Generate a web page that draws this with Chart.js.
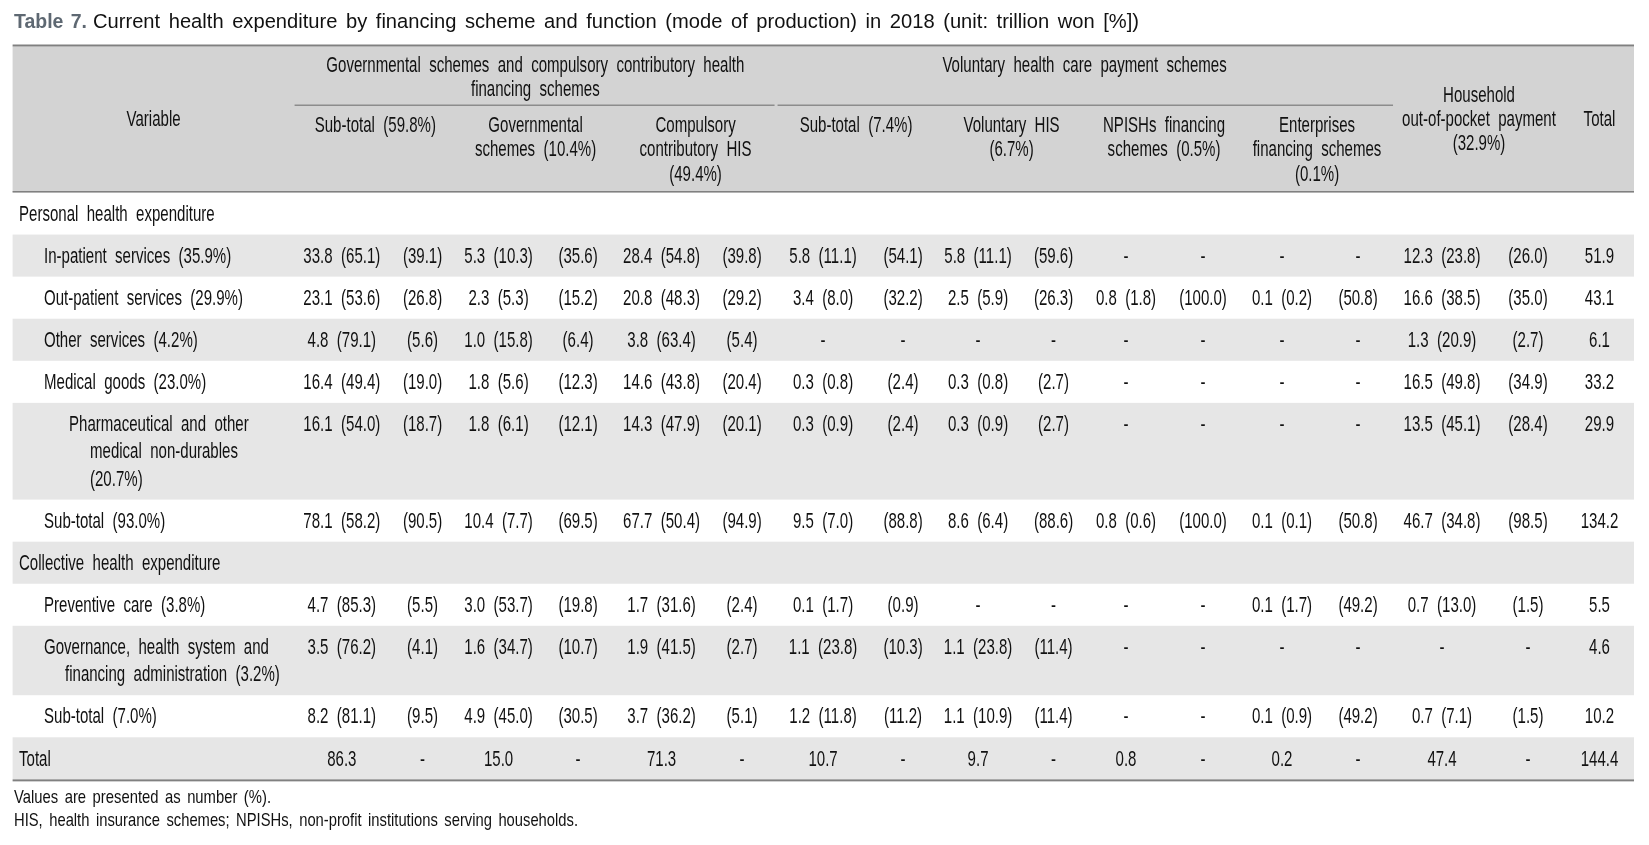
<!DOCTYPE html>
<html>
<head>
<meta charset="utf-8">
<script src="https://cdn.jsdelivr.net/npm/chart.js@4.4.1/dist/chart.umd.min.js"></script>
<style>
html,body{margin:0;padding:0;background:#fff;}
canvas{display:block;}
</style>
</head>
<body>
<canvas id="c" width="1649" height="845"></canvas>
<script>
// ---------------- text content ----------------
const titleLead = 'Table 7.';
const titleText = 'Current health expenditure by financing scheme and function (mode of production) in 2018 (unit: trillion won [%])';
const footnotes = [
  'Values are presented as number (%).',
  'HIS, health insurance schemes; NPISHs, non-profit institutions serving households.'
];
const variableHeader = 'Variable';
const totalHeader = 'Total';
const groupHeaders = [
  ['Governmental schemes and compulsory contributory health', 'financing schemes'],
  ['Voluntary health care payment schemes']
];
const schemeHeaders = [
  ['Sub-total (59.8%)'],
  ['Governmental', 'schemes (10.4%)'],
  ['Compulsory', 'contributory HIS', '(49.4%)'],
  ['Sub-total (7.4%)'],
  ['Voluntary HIS', '(6.7%)'],
  ['NPISHs financing', 'schemes (0.5%)'],
  ['Enterprises', 'financing schemes', '(0.1%)'],
  ['Household', 'out-of-pocket payment', '(32.9%)']
];

// ---------------- rows ----------------
const rowLabels = [
  ['Personal health expenditure'],
  ['In-patient services (35.9%)'],
  ['Out-patient services (29.9%)'],
  ['Other services (4.2%)'],
  ['Medical goods (23.0%)'],
  ['Pharmaceutical and other', 'medical non-durables', '(20.7%)'],
  ['Sub-total (93.0%)'],
  ['Collective health expenditure'],
  ['Preventive care (3.8%)'],
  ['Governance, health system and', 'financing administration (3.2%)'],
  ['Sub-total (7.0%)'],
  ['Total']
];
const rowLevels = [0, 1, 1, 1, 1, 2, 1, 0, 1, 1, 1, 0];
const sectionRows = [0, 7];   // rows that carry no values

// ---------------- values (value rows: In, Out, Other, Medical, Pharma, Sub, Prev, Gov, Sub, Total) ----------------
// amount (trillion won), share within row [%], share within column [%]; null = '-'
const govSubAmt  = [33.8, 23.1, 4.8, 16.4, 16.1, 78.1, 4.7, 3.5, 8.2, 86.3];
const govSubRow  = [65.1, 53.6, 79.1, 49.4, 54.0, 58.2, 85.3, 76.2, 81.1, null];
const govSubCol  = [39.1, 26.8, 5.6, 19.0, 18.7, 90.5, 5.5, 4.1, 9.5, null];

const govAmt     = [5.3, 2.3, 1.0, 1.8, 1.8, 10.4, 3.0, 1.6, 4.9, 15.0];
const govRow     = [10.3, 5.3, 15.8, 5.6, 6.1, 7.7, 53.7, 34.7, 45.0, null];
const govCol     = [35.6, 15.2, 6.4, 12.3, 12.1, 69.5, 19.8, 10.7, 30.5, null];

const compAmt    = [28.4, 20.8, 3.8, 14.6, 14.3, 67.7, 1.7, 1.9, 3.7, 71.3];
const compRow    = [54.8, 48.3, 63.4, 43.8, 47.9, 50.4, 31.6, 41.5, 36.2, null];
const compCol    = [39.8, 29.2, 5.4, 20.4, 20.1, 94.9, 2.4, 2.7, 5.1, null];

const volSubAmt  = [5.8, 3.4, null, 0.3, 0.3, 9.5, 0.1, 1.1, 1.2, 10.7];
const volSubRow  = [11.1, 8.0, null, 0.8, 0.9, 7.0, 1.7, 23.8, 11.8, null];
const volSubCol  = [54.1, 32.2, null, 2.4, 2.4, 88.8, 0.9, 10.3, 11.2, null];

const volHisAmt  = [5.8, 2.5, null, 0.3, 0.3, 8.6, null, 1.1, 1.1, 9.7];
const volHisRow  = [11.1, 5.9, null, 0.8, 0.9, 6.4, null, 23.8, 10.9, null];
const volHisCol  = [59.6, 26.3, null, 2.7, 2.7, 88.6, null, 11.4, 11.4, null];

const npishAmt   = [null, 0.8, null, null, null, 0.8, null, null, null, 0.8];
const npishRow   = [null, 1.8, null, null, null, 0.6, null, null, null, null];
const npishCol   = [null, 100.0, null, null, null, 100.0, null, null, null, null];

const entAmt     = [null, 0.1, null, null, null, 0.1, 0.1, null, 0.1, 0.2];
const entRow     = [null, 0.2, null, null, null, 0.1, 1.7, null, 0.9, null];
const entCol     = [null, 50.8, null, null, null, 50.8, 49.2, null, 49.2, null];

const hhAmt      = [12.3, 16.6, 1.3, 16.5, 13.5, 46.7, 0.7, null, 0.7, 47.4];
const hhRow      = [23.8, 38.5, 20.9, 49.8, 45.1, 34.8, 13.0, null, 7.1, null];
const hhCol      = [26.0, 35.0, 2.7, 34.9, 28.4, 98.5, 1.5, null, 1.5, null];

const totalAmt   = [51.9, 43.1, 6.1, 33.2, 29.9, 134.2, 5.5, 4.6, 10.2, 144.4];

// ---------------- layout / style (not data) ----------------
const colWidths = [282, 94.5, 67, 85, 74, 93, 68, 94, 66, 84, 67, 78, 76, 82, 70, 98, 74, 69];
const rowBase = 42.07, rowExtra = 27.34, firstLine = 22.3;
const headerH = 146, headerTopPad = 46.5, hShift = 2;
const indentBase = 6.4, indentStep = 25, hanging = 21;
const colors = { text: '#111111', header: '#d3d3d3', stripe: '#e6e6e6', rule: '#808080', lead: '#5e6872' };

function hasFont(name) {
  const c = document.createElement('canvas').getContext('2d');
  const s = 'abcdefghijklmnopqrstuvwxyz0123456789';
  c.font = '40px monospace'; const a = c.measureText(s).width;
  c.font = '40px "' + name + '", monospace'; const b = c.measureText(s).width;
  return Math.abs(a - b) > 1;
}
const narrow = hasFont('Liberation Sans Narrow');
const bodyFont = narrow ? '21.5px "Liberation Sans Narrow"' : '21.5px "Liberation Sans", Arial, sans-serif';
const bodySx = (narrow ? 0.89 : 0.73) * 0.958;
const bodyWs = 6;

// ---------------- derived structures ----------------
const schemes = [
  [govSubAmt, govSubRow, govSubCol], [govAmt, govRow, govCol], [compAmt, compRow, compCol],
  [volSubAmt, volSubRow, volSubCol], [volHisAmt, volHisRow, volHisCol], [npishAmt, npishRow, npishCol],
  [entAmt, entRow, entCol], [hhAmt, hhRow, hhCol]
];
const fmt = v => v.toFixed(1);
const valueColumns = [];
schemes.forEach(([amt, row, col]) => {
  valueColumns.push(amt.map((a, i) => a === null ? '-' : (row[i] === null ? fmt(a) : fmt(a) + ' (' + fmt(row[i]) + ')')));
  valueColumns.push(col.map(c => c === null ? '-' : '(' + fmt(c) + ')'));
});
valueColumns.push(totalAmt.map(fmt));

const colEdges = [0];
colWidths.forEach(w => colEdges.push(colEdges[colEdges.length - 1] + w));
const colCenter = i => (colEdges[i] + colEdges[i + 1]) / 2;

const rowTops = [0];
rowLabels.forEach(l => rowTops.push(rowTops[rowTops.length - 1] + rowBase + (l.length - 1) * rowExtra));
const totalH = rowTops[rowTops.length - 1];
const valueRows = rowLabels.map((_, i) => i).filter(i => !sectionRows.includes(i));

const datasets = valueColumns.map((col, ci) => ({
  label: 'col' + ci,
  data: valueRows.map((r, k) => ({ x: colCenter(ci + 1), y: rowTops[r] + firstLine, t: col[k] })),
  pointRadius: 0, pointHoverRadius: 0, showLine: false
}));

// ---------------- drawing helpers ----------------
function drawText(ctx, text, x, y, align, font, sx, ws, color, fitW) {
  ctx.save();
  ctx.font = font;
  ctx.fillStyle = color;
  ctx.textBaseline = 'middle';
  ctx.textAlign = 'left';
  if ('wordSpacing' in ctx) ctx.wordSpacing = ws + 'px';
  const w = ctx.measureText(text).width;
  if (fitW) sx = fitW / w;
  ctx.translate(x, y);
  ctx.scale(sx, 1);
  const dx = align === 'center' ? -w / 2 : (align === 'right' ? -w : 0);
  ctx.fillText(text, dx, 0);
  ctx.restore();
}

const tablePlugin = {
  id: 'table',
  beforeDraw(chart) {
    const ctx = chart.ctx, xs = chart.scales.x, ys = chart.scales.y;
    const L = xs.getPixelForValue(0), R = xs.getPixelForValue(colEdges[colEdges.length - 1]);
    const top = chart.chartArea.top;
    const hTop = top - headerH;
    ctx.save();
    ctx.fillStyle = '#fff';
    ctx.fillRect(0, 0, chart.width, chart.height);
    ctx.fillStyle = colors.header;
    ctx.fillRect(L, hTop, R - L, headerH);
    ctx.fillStyle = colors.stripe;
    rowLabels.forEach((_, r) => {
      if (r % 2 === 1) {
        const y0 = ys.getPixelForValue(rowTops[r]), y1 = ys.getPixelForValue(rowTops[r + 1]);
        ctx.fillRect(L, y0, R - L, y1 - y0);
      }
    });
    ctx.fillStyle = colors.rule;
    ctx.fillRect(L, hTop - 2, R - L, 2);
    ctx.fillRect(L, top - 1.5, R - L, 1.5);
    const yb = ys.getPixelForValue(totalH);
    ctx.fillRect(L, yb, R - L, 2);
    const gy = hTop + 58;
    ctx.fillStyle = '#8c8c8c';
    ctx.fillRect(xs.getPixelForValue(colEdges[1]), gy, xs.getPixelForValue(colEdges[7]) - xs.getPixelForValue(colEdges[1]) - 1.5, 1.5);
    ctx.fillRect(xs.getPixelForValue(colEdges[7]) + 1.5, gy, xs.getPixelForValue(colEdges[15]) - xs.getPixelForValue(colEdges[7]) - 1.5, 1.5);
    ctx.restore();
  },
  afterDraw(chart) {
    const ctx = chart.ctx, xs = chart.scales.x, ys = chart.scales.y;
    const top = chart.chartArea.top;
    const hTop = top - headerH + hShift;
    const px = v => xs.getPixelForValue(v);
    const T = colors.text;
    // title
    drawText(ctx, titleLead, 14, 22, 'left', 'bold 20.5px "Liberation Sans", Arial, sans-serif', 1, 2, colors.lead, 73);
    drawText(ctx, titleText, 93, 22, 'left', '20.5px "Liberation Sans", Arial, sans-serif', 1, 3, T, 1046);
    // header
    const gMid = [(colEdges[1] + colEdges[7]) / 2, (colEdges[7] + colEdges[15]) / 2];
    groupHeaders.forEach((lines, g) => lines.forEach((s, k) =>
      drawText(ctx, s, px(gMid[g]), hTop + 17.7 + k * 24.1, 'center', bodyFont, bodySx, bodyWs, T)));
    schemeHeaders.forEach((lines, s) => {
      const cx = px((colEdges[1 + 2 * s] + colEdges[3 + 2 * s]) / 2);
      const y0 = s === 7 ? hTop + 47.1 : hTop + 77.5;
      lines.forEach((t, k) => drawText(ctx, t, cx, y0 + k * 24.4, 'center', bodyFont, bodySx, bodyWs, T));
    });
    drawText(ctx, variableHeader, px(colCenter(0)), hTop + 71.3, 'center', bodyFont, bodySx, bodyWs, T);
    drawText(ctx, totalHeader, px(colCenter(colWidths.length - 1)), hTop + 71.3, 'center', bodyFont, bodySx, bodyWs, T);
    // row labels
    rowLabels.forEach((lines, r) => {
      lines.forEach((t, k) => {
        const xv = indentBase + rowLevels[r] * indentStep + (k > 0 ? hanging : 0);
        drawText(ctx, t, px(xv), ys.getPixelForValue(rowTops[r] + firstLine + k * rowExtra), 'left', bodyFont, bodySx, bodyWs, T);
      });
    });
    // cell values, placed at the library's point elements
    chart.data.datasets.forEach((ds, di) => {
      chart.getDatasetMeta(di).data.forEach((el, i) => {
        drawText(ctx, ds.data[i].t, el.x, el.y, 'center', bodyFont, bodySx, bodyWs, T);
      });
    });
    // footnotes
    const yb = ys.getPixelForValue(totalH);
    drawText(ctx, footnotes[0], 14, yb + 19, 'left', '18.5px "Liberation Sans", Arial, sans-serif', 1, 3, T, 257);
    drawText(ctx, footnotes[1], 14, yb + 42, 'left', '18.5px "Liberation Sans", Arial, sans-serif', 1, 3, T, 564);
  }
};

const areaTop = headerTopPad + headerH;
new Chart(document.getElementById('c'), {
  type: 'scatter',
  data: { datasets },
  options: {
    responsive: false,
    animation: false,
    events: [],
    layout: { padding: { top: areaTop, left: 12.6, right: 1649 - 1634, bottom: 845 - areaTop - totalH } },
    scales: {
      x: { type: 'linear', min: 0, max: colEdges[colEdges.length - 1], display: false },
      y: { type: 'linear', min: 0, max: totalH, reverse: true, display: false }
    },
    plugins: { legend: { display: false }, tooltip: { enabled: false }, title: { display: false } }
  },
  plugins: [tablePlugin]
});
</script>
</body>
</html>
